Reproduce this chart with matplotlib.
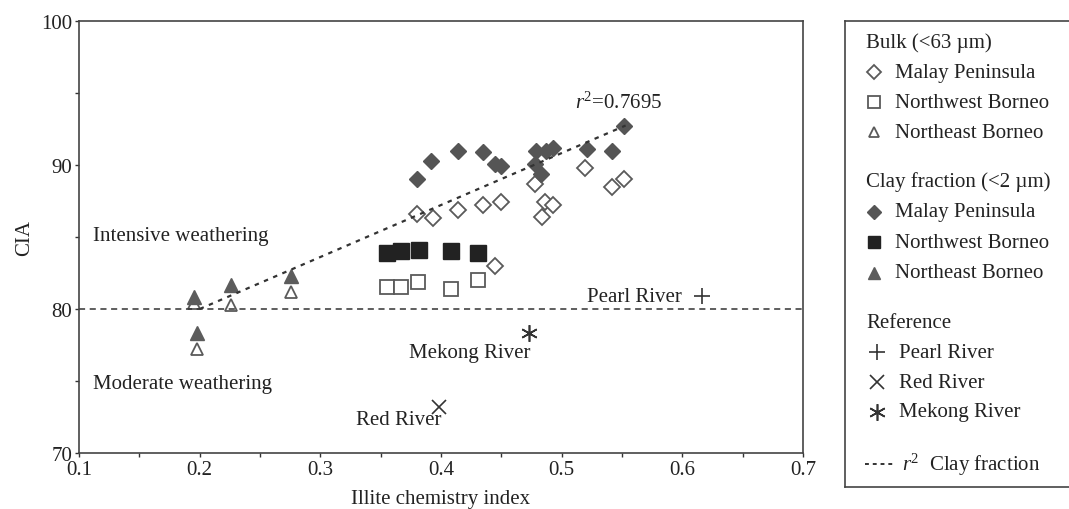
import matplotlib
matplotlib.use("Agg")
import matplotlib.pyplot as plt
import numpy as np

plt.rcParams['font.family'] = ['Liberation Serif', 'DejaVu Serif']
plt.rcParams['mathtext.fontset'] = 'custom'
plt.rcParams['mathtext.rm'] = 'Liberation Serif'
plt.rcParams['mathtext.it'] = 'Liberation Serif:italic'

# Bulk (<63 um)
bulk_malay_x = [0.380, 0.393, 0.414, 0.435, 0.450, 0.445, 0.478, 0.486, 0.493, 0.484, 0.519, 0.542, 0.552]
bulk_malay_y = [86.6, 86.3, 86.9, 87.2, 87.4, 83.0, 88.7, 87.4, 87.2, 86.4, 89.8, 88.5, 89.0]
bulk_nw_x = [0.355, 0.367, 0.381, 0.408, 0.431]
bulk_nw_y = [81.5, 81.5, 81.9, 81.4, 82.0]
bulk_ne_x = [0.195, 0.226, 0.276, 0.198]
bulk_ne_y = [80.4, 80.3, 81.2, 77.2]

# Clay fraction (<2 um)
clay_malay_x = [0.380, 0.392, 0.414, 0.435, 0.445, 0.450, 0.479, 0.487, 0.493, 0.478, 0.483, 0.521, 0.542, 0.552]
clay_malay_y = [89.0, 90.3, 91.0, 90.9, 90.1, 89.9, 91.0, 91.0, 91.2, 90.1, 89.4, 91.1, 91.0, 92.7]
clay_nw_x = [0.355, 0.367, 0.382, 0.408, 0.431]
clay_nw_y = [83.9, 84.0, 84.1, 84.0, 83.9]
clay_ne_x = [0.195, 0.226, 0.276, 0.198]
clay_ne_y = [80.8, 81.7, 82.3, 78.3]

# Reference rivers
pearl = (0.616, 80.9)
red = (0.398, 73.2)
mekong = (0.473, 78.3)

# regression on clay fraction
fit_slope = 36.1
fit_intercept = 72.78
fit_range = [0.20, 0.553]
fit_r2 = "0.7695"
cia_threshold = 80

FS = 15

fig = plt.figure(figsize=(10.69, 5.10), dpi=100)
ax = fig.add_axes([79 / 1069, 56 / 510, 724 / 1069, 432 / 510])

open_kw = dict(linestyle='none', markerfacecolor='white', markeredgecolor='#5a5a5a', markeredgewidth=1.3)
ax.plot(bulk_malay_x, bulk_malay_y, marker='D', ms=8.5, **open_kw)
ax.plot(bulk_nw_x, bulk_nw_y, marker='s', ms=10.5, **open_kw)
ax.plot(bulk_ne_x, bulk_ne_y, marker='^', ms=9, **open_kw)

ax.plot(clay_malay_x, clay_malay_y, marker='D', ms=8.5, linestyle='none', color='#555555')
ax.plot(clay_nw_x, clay_nw_y, marker='s', ms=11, linestyle='none', color='#222222')
ax.plot(clay_ne_x, clay_ne_y, marker='^', ms=10, linestyle='none', color='#5c5c5c')

ax.plot(*pearl, marker='+', ms=11, mew=1.2, color='#333333')
ax.plot(*red, marker='x', ms=10, mew=1.2, color='#333333')
ax.plot(*mekong, marker=(6, 2, 0), ms=12, mew=1.2, color='#333333')

fx = np.array(fit_range)
ax.plot(fx, fit_slope * fx + fit_intercept, linestyle=(0, (2, 2.5)), color='#333333', lw=1.6)
ax.axhline(cia_threshold, linestyle=(0, (4, 3)), color='#333333', lw=1.1)

ax.text(0.583, 94.0, r'$\it{r}^2$=' + fit_r2, fontsize=FS, ha='right', color='#222222')
ax.text(0.112, 85.1, 'Intensive weathering', fontsize=FS, va='center', color='#222222')
ax.text(0.112, 74.8, 'Moderate weathering', fontsize=FS, va='center', color='#222222')
ax.text(0.6, pearl[1], 'Pearl River', fontsize=FS, ha='right', va='center', color='#222222')
ax.text(0.4745, 77.0, 'Mekong River', fontsize=FS, ha='right', va='center', color='#222222')
ax.text(0.4, 72.3, 'Red River', fontsize=FS, ha='right', va='center', color='#222222')

ax.set_xlim(0.1, 0.7)
ax.set_ylim(70, 100)
ax.set_xticks([0.1, 0.2, 0.3, 0.4, 0.5, 0.6, 0.7])
ax.set_xticks([0.15, 0.25, 0.35, 0.45, 0.55, 0.65], minor=True)
ax.set_yticks([70, 80, 90, 100])
ax.set_yticks([75, 85, 95], minor=True)
ax.tick_params(which='both', direction='out', length=3, width=1, colors='#333333',
               labelsize=FS, labelcolor='#222222', pad=2)
ax.set_xlabel('Illite chemistry index', fontsize=FS, color='#222222', labelpad=7)
ax.set_ylabel('CIA', fontsize=FS, color='#222222', labelpad=5)
for s in ax.spines.values():
    s.set_color('#444444')
    s.set_linewidth(1.2)

# legend box drawn by hand in pixel coordinates
lg = fig.add_axes([845 / 1069, 22 / 510, 224 / 1069, 466 / 510])
lg.set_xlim(845, 1069)
lg.set_ylim(488, 22)
lg.set_xticks([])
lg.set_yticks([])
lg.spines['right'].set_visible(False)
for k in ['left', 'top', 'bottom']:
    lg.spines[k].set_color('#444444')
    lg.spines[k].set_linewidth(1.2)

tkw = dict(fontsize=FS, va='center', color='#222222')
lg.text(866, 43, 'Bulk (<63 \u00b5m)', **tkw)
lg.plot(874, 73, marker='D', ms=7, **open_kw)
lg.text(895, 73, 'Malay Peninsula', **tkw)
lg.plot(874, 103, marker='s', ms=9, **open_kw)
lg.text(895, 103, 'Northwest Borneo', **tkw)
lg.plot(874, 133, marker='^', ms=7.5, **open_kw)
lg.text(895, 133, 'Northeast Borneo', **tkw)

lg.text(866, 182, 'Clay fraction (<2 \u00b5m)', **tkw)
lg.plot(874, 213, marker='D', ms=7, linestyle='none', color='#555555')
lg.text(895, 213, 'Malay Peninsula', **tkw)
lg.plot(874, 243, marker='s', ms=9, linestyle='none', color='#222222')
lg.text(895, 243, 'Northwest Borneo', **tkw)
lg.plot(874, 274, marker='^', ms=9, linestyle='none', color='#5c5c5c')
lg.text(895, 274, 'Northeast Borneo', **tkw)

lg.text(866, 323, 'Reference', **tkw)
lg.plot(877, 353, marker='+', ms=11, mew=1.2, color='#333333')
lg.text(899, 353, 'Pearl River', **tkw)
lg.plot(877, 383, marker='x', ms=10, mew=1.2, color='#333333')
lg.text(899, 383, 'Red River', **tkw)
lg.plot(877, 413, marker=(6, 2, 0), ms=12, mew=1.2, color='#333333')
lg.text(899, 413, 'Mekong River', **tkw)

lg.plot([865, 896], [465, 465], linestyle=(0, (2, 2)), color='#333333', lw=1.4)
lg.text(902, 465, r'$\it{r}^2$  Clay fraction', **tkw)

fig.savefig('out.png', dpi=100)
